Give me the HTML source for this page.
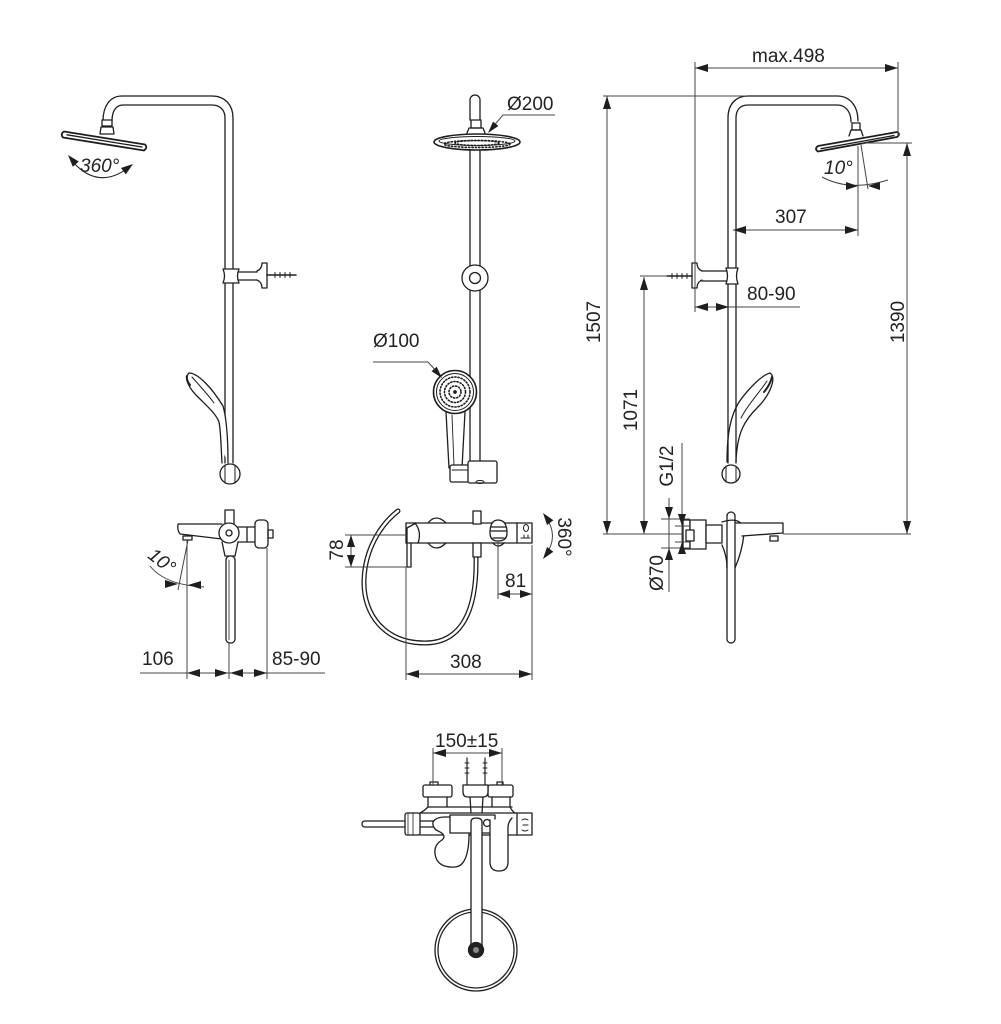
<!DOCTYPE html>
<html>
<head>
<meta charset="utf-8">
<style>
html,body{margin:0;padding:0;background:#fff;}
svg{display:block;}
text{font-family:"Liberation Sans",Arial,sans-serif;font-size:19px;fill:#222;}
</style>
</head>
<body>
<svg width="1001" height="1024" viewBox="0 0 1001 1024" xmlns="http://www.w3.org/2000/svg">
<g fill="none" stroke="#1e1e1e" stroke-width="1.3" stroke-linejoin="round" stroke-linecap="round">

<!-- ============ LEFT RISER ============ -->
<path d="M103,121 C103,106 110,96 122,96 H212 C225,96 233,105 233,118 V463"/>
<path d="M112,121 C112,111 116,105 123,105 H212 C220,105 225,110 225,118 V463"/>
<rect x="102" y="120" width="10" height="6" fill="#fff"/>
<path d="M100,134 L101,127 H113 L114,134 Z" fill="#fff"/>
<path d="M64,131.5 L145,144.5 Q148,147.5 144,150.5 L63,137.5 Q60,134 64,131.5 Z" fill="#fff" stroke-width="1.8"/>
<path d="M67,134.8 L142,147"/>
<!-- 360 arc -->
<path d="M73,162 Q98,190 128,168" stroke-width="1"/>
<!-- bracket -->
<path d="M223,269 Q226,276 223,283 H239 Q236,276 239,269 Z" fill="#fff"/>
<path d="M239,272 H257 M239,280 H257"/>
<path d="M257,271 Q262,269 262,263 H267 V288 H262 Q262,282 257,280"/>
<path d="M267,275 H296" stroke-width="1.6"/>
<path d="M275,272.5 V277.5 M280,272.5 V277.5 M285,272.5 V277.5 M290,272.5 V277.5" stroke-width="1"/>
<!-- hand shower leaf -->
<path d="M189,373 C198,373 212,388 223,406 C227,420 228,440 228,463" fill="#fff"/>
<path d="M189,373 C184,378 188,388 200,399 C208,407 216,414 219,422 C221,432 221,448 222,463"/>
<path d="M192,377 C198,384 206,392 214,403" stroke-width="1"/>
<path d="M187,376 Q186,380 190,385" stroke-width="2"/>
<circle cx="230" cy="474" r="10" fill="#fff"/>
<path d="M225,465 V483 M235,465 V483" stroke-width="1"/>

<!-- ============ CENTER RISER ============ -->
<path d="M470,120 V100 A5,5 0 0 1 480,100 V120"/>
<path d="M470,150 V462 M480,150 V462"/>
<rect x="471" y="120" width="10" height="8" fill="#fff"/>
<path d="M467,133 L469,128 H483 L485,133"/>
<ellipse cx="477" cy="142" rx="43" ry="8" fill="#fff" stroke-width="1.6"/>
<ellipse cx="477" cy="141" rx="38" ry="4.5" stroke-width="1"/>
<ellipse cx="477" cy="144" rx="33" ry="3.5" stroke-width="1.6" stroke-dasharray="1.2 2.2"/>
<ellipse cx="477" cy="143" rx="22" ry="2.5" stroke-width="1.6" stroke-dasharray="1.2 2.2"/>
<!-- slider -->
<circle cx="475" cy="278" r="13" fill="#fff"/>
<circle cx="475" cy="278" r="5.5" fill="#fff"/>
<!-- hand shower -->
<path d="M446,412 L449,468 H462 L465,412" fill="#fff"/>
<path d="M452,415 L454,466" stroke-width="0.9"/>
<circle cx="455" cy="392" r="21.5" fill="#fff" stroke-width="1.6"/>
<circle cx="455" cy="392" r="18.5" stroke-width="1"/>
<circle cx="455" cy="392" r="15" stroke-width="1.6" stroke-dasharray="1.2 2"/>
<circle cx="455" cy="392" r="10.5" stroke-width="1.6" stroke-dasharray="1.2 2"/>
<circle cx="455" cy="392" r="6" stroke-width="1.6" stroke-dasharray="1.2 2"/>
<circle cx="455" cy="392" r="1.2" fill="#222"/>
<!-- bottom bracket -->
<rect x="450" y="465" width="20" height="17" rx="2" fill="#fff"/>
<rect x="468" y="461" width="29" height="22" rx="2" fill="#fff"/>
<path d="M452,470 H468" stroke-width="1"/>
<ellipse cx="480" cy="482" rx="4" ry="1.5" stroke-width="1"/>

<!-- ============ RIGHT RISER ============ -->
<path d="M728,463 V118 C728,104 736,96 748,96 H837 C850,96 858,106 858,121"/>
<path d="M736,463 V118 C736,110 740,105 748,105 H837 C846,105 851,112 851,122"/>
<rect x="852" y="123" width="8" height="7" fill="#fff"/>
<path d="M849,136 L851,130 H861 L863,136"/>
<path d="M818,146 L897,132 Q901,134 897,137 L818,151.5 Q814,149 818,146 Z" fill="#fff" stroke-width="1.8"/>
<path d="M821,148.7 L894,135.5"/>
<!-- bracket -->
<path d="M738,268 Q735,276 738,284 H726 Q729,276 726,268 Z" fill="#fff"/>
<path d="M702,271 H726 M702,281 H726"/>
<path d="M702,271 Q697,269 697,263 H692 V288 H697 Q697,282 702,280"/>
<path d="M667,276 H692" stroke-width="1.6"/>
<path d="M672,273.5 V278.5 M677,273.5 V278.5 M682,273.5 V278.5 M687,273.5 V278.5" stroke-width="1"/>
<!-- hand shower leaf right -->
<path d="M770,373 C777,378 770,395 757,408 C745,420 737,432 736,462" fill="#fff"/>
<path d="M770,373 C762,375 749,388 739,402 C731,415 727,432 727,462"/>
<path d="M767,381 C760,392 748,404 741,418" stroke-width="1"/>
<path d="M772,377 Q770,385 764,392" stroke-width="2"/>
<circle cx="731" cy="474" r="9" fill="#fff"/>
<path d="M726,466 V482 M736,466 V482" stroke-width="1"/>
<!-- mixer side view right -->
<rect x="727" y="512" width="8" height="131" rx="4" fill="#fff"/>
<rect x="683" y="520" width="7" height="29" fill="#fff"/>
<rect x="690" y="520" width="16" height="29" fill="#fff"/>
<rect x="686" y="530" width="8" height="11" fill="#fff"/>
<rect x="706" y="525" width="16" height="18" fill="#fff"/>
<path d="M722,522 Q744,515 744,534 Q742,552 735,568 M722,545 Q727,556 727,568"/>
<path d="M735,523 H783 V533 L742,536" fill="#fff"/>
<rect x="770" y="536" width="8" height="5"/>

<!-- ============ LEFT MIXER (bottom-left) ============ -->
<path d="M222,524 H178 Q177,530 180,534 L222,539"/>
<rect x="183" y="536" width="9" height="4"/>
<rect x="225" y="510" width="9" height="14" fill="#fff"/>
<path d="M238,527 H255 M238,542 H255 M247,527 V542"/>
<rect x="255" y="520" width="13" height="28" rx="4" fill="#fff"/>
<rect x="268" y="530" width="5" height="8"/>
<path d="M222,542 L225,556 H235 L238,542"/>
<rect x="226" y="556" width="9" height="87" rx="4" fill="#fff"/>
<path d="M229,560 V640" stroke-width="0.8"/>
<circle cx="229" cy="533" r="10" fill="#fff"/>
<circle cx="229" cy="533" r="3"/>

<!-- ============ THERMOSTAT FRONT ============ -->
<path d="M476,558 C477,610 462,643 425,643 C385,643 363,615 364,580 C365,550 380,525 398,511" stroke-width="5"/>
<path d="M476,558 C477,610 462,643 425,643 C385,643 363,615 364,580 C365,550 380,525 398,511" stroke="#fff" stroke-width="2.4"/>
<path d="M428,523 Q436,513 446,523 M428,543 Q436,553 446,543"/>
<rect x="406" y="523" width="126" height="20" fill="#fff"/>
<path d="M407,528 L416,523 M407,528 V567 H411 V543"/>
<path d="M415,523 Q422,532 418,543"/>
<rect x="473" y="511" width="8" height="13" fill="#fff"/>
<rect x="473" y="543" width="8" height="14" fill="#fff"/>
<path d="M490,533 Q490,520 498,520 Q507,520 507,533 Q507,541 498,541 Q490,541 490,533 Z" fill="#fff"/>
<path d="M491,527 H506 M491,531 H506 M493,538 H504"/>
<path d="M493,543 Q498,549 504,543"/>
<path d="M517,523 V543"/>
<ellipse cx="526" cy="528" rx="2.5" ry="3.5" stroke-width="1"/>
<path d="M521,538 H530 M524,535 V538 M528,535 V538" stroke-width="1"/>

<!-- ============ BOTTOM VIEW ============ -->
<path d="M467,758 V787 M485,758 V787" stroke-width="1.2"/>
<path d="M465,763 H469 M465,768 H469 M465,773 H469 M483,763 H487 M483,768 H487 M483,773 H487" stroke-width="0.9"/>
<path d="M430,785 V782 H438 V785 M497,785 V782 H503 V785"/>
<rect x="423" y="785" width="29" height="12" rx="2" fill="#fff"/>
<rect x="488" y="785" width="25" height="12" rx="2" fill="#fff"/>
<path d="M463,785 H488 V792 Q488,797 483,797 H468 Q463,797 463,792 Z" fill="#fff"/>
<path d="M428,797 V807 Q424,811 420,813 M447,797 V807 M492,797 V807 M510,797 V807 Q512,811 515,813 M470,797 L471,813 M483,797 L482,813"/>
<path d="M420,813 H517 M428,807 H512"/>
<path d="M362,824 Q362,821 365,821 H452 M362,824 Q362,827 365,827 H452"/>
<rect x="405" y="813" width="15" height="22" rx="2" fill="#fff"/>
<path d="M408,813 V835 M413,813 V835" stroke-width="0.8"/>
<path d="M420,835 H517"/>
<path d="M433,822 Q436,817 445,817 H460 Q468,818 469,828 Q470,866 455,867 Q440,868 436,858 Q432,846 442,840 Q448,835 436,830 Q432,826 433,822 Z" fill="#fff"/>
<rect x="450" y="815" width="45" height="18" fill="#fff"/>
<circle cx="487" cy="823" r="3.5"/>
<path d="M490,820 V862 Q490,871 499,871 Q508,871 508,862 V828 Q508,822 512,818" fill="#fff"/>
<rect x="517" y="813" width="15" height="22" fill="#fff"/>
<path d="M522,820 Q525,818 528,820 M523,825 H528 M522,830 Q525,832 528,830" stroke-width="1"/>
<circle cx="476" cy="950" r="41" fill="#fff"/>
<circle cx="476" cy="950" r="38"/>
<path d="M471,950 V822 Q471,818 476,818 Q482,818 482,822 V950" fill="#fff"/>
<circle cx="476" cy="950" r="7.5" fill="#222"/>
<circle cx="476" cy="950" r="3" fill="#888" stroke="none"/>
</g>

<!-- ============ DIMENSION LINES ============ -->
<g fill="none" stroke="#444" stroke-width="1">
<!-- Ø200 / Ø100 leaders -->
<path d="M555,115 H503 L491,129"/>
<path d="M373,362 H428 L438,373"/>
<!-- max.498 -->
<path d="M695,68 H898 M695,62 V312 M898,62 V136"/>
<!-- 1507 -->
<path d="M607,96 V534 M603,96 H747"/>
<!-- 1390 -->
<path d="M907,143 V534 M862,143 H912"/>
<!-- 1071 -->
<path d="M644,277 V534 M640,276 H667"/>
<!-- baseline -->
<path d="M603,534 H683 M783,534 H911"/>
<!-- 307 -->
<path d="M733,230 H858 M858,146 V236"/>
<!-- 10 right -->
<path d="M858,146 V190 M861,145 L868,189"/>
<path d="M822,177 Q850,192 888,180"/>
<!-- 80-90 -->
<path d="M695,307 H800"/>
<!-- G1/2 -->
<path d="M682,443 V553 M675,526 H690 M675,542 H690"/>
<!-- Ø70 -->
<path d="M669,498 V592 M661,519 H690 M661,548 H690"/>
<!-- left 10 -->
<path d="M187,540 V679 M188,540 L178,590"/>
<path d="M150,566 Q165,585 204,587"/>
<!-- 106 / 85-90 -->
<path d="M140,673 H325 M229,643 V679 M267,548 V679"/>
<!-- 78 -->
<path d="M351,535 V567 M345,535 H407 M345,567 H407"/>
<!-- 360 center -->
<path d="M545,516 Q560,536 545,556"/>
<!-- 81 -->
<path d="M498,594 H532 M498,541 V599 M532,545 V680"/>
<!-- 308 -->
<path d="M406,674 H532 M406,567 V680"/>
<!-- 150 -->
<path d="M433,753 H502 M433,748 V786 M502,748 V786"/>
</g>

<!-- ============ ARROWHEADS ============ -->
<g fill="#1e1e1e" stroke="none">
<polygon points="488,133 498.4,126 493,121.6"/>
<polygon points="442,378 431.5,371.3 436.7,366.7"/>
<polygon points="68,155 78.8,161.5 72.8,166.7"/>
<polygon points="133,164 125.8,174.4 121,168"/>
<polygon points="695,68 708,64 708,72"/>
<polygon points="898,68 885,64 885,72"/>
<polygon points="607,96 603,109 611,109"/>
<polygon points="607,534 603,521 611,521"/>
<polygon points="907,143 903,156 911,156"/>
<polygon points="907,534 903,521 911,521"/>
<polygon points="644,277 640,290 648,290"/>
<polygon points="644,534 640,521 648,521"/>
<polygon points="733,230 746,226 746,234"/>
<polygon points="858,230 845,226 845,234"/>
<polygon points="858,186 846,182 846,190"/>
<polygon points="868,186 880,182 880,190"/>
<polygon points="695,307 708,303 708,311"/>
<polygon points="729,307 716,303 716,311"/>
<polygon points="682,526 678,514 686,514"/>
<polygon points="682,542 678,554 686,554"/>
<polygon points="669,519 665,507 673,507"/>
<polygon points="669,548 665,560 673,560"/>
<polygon points="178,584 165,580 165,588"/>
<polygon points="188,585 201,581 201,589"/>
<polygon points="187,673 200,669 200,677"/>
<polygon points="228,673 215,669 215,677"/>
<polygon points="230,673 243,669 243,677"/>
<polygon points="267,673 254,669 254,677"/>
<polygon points="351,535 347,547 355,547"/>
<polygon points="351,567 347,555 355,555"/>
<polygon points="543,513 553.4,520.2 547,525"/>
<polygon points="543,559 553.4,551.8 547,547"/>
<polygon points="498,594 510,590 510,598"/>
<polygon points="532,594 520,590 520,598"/>
<polygon points="406,674 419,670 419,678"/>
<polygon points="532,674 519,670 519,678"/>
<polygon points="433,753 446,749 446,757"/>
<polygon points="502,753 489,749 489,757"/>
</g>

<!-- ============ TEXT ============ -->
<text x="80" y="172" font-style="italic">360°</text>
<text x="507" y="110">Ø200</text>
<text x="373" y="347">Ø100</text>
<text x="752" y="62">max.498</text>
<text x="775" y="223">307</text>
<text x="747" y="300">80-90</text>
<text x="824" y="174" font-style="italic">10°</text>
<text transform="translate(600,322) rotate(-90)" text-anchor="middle">1507</text>
<text transform="translate(904,322) rotate(-90)" text-anchor="middle">1390</text>
<text transform="translate(637,410) rotate(-90)" text-anchor="middle">1071</text>
<text transform="translate(673,466) rotate(-90)" text-anchor="middle">G1/2</text>
<text transform="translate(663,573) rotate(-90)" text-anchor="middle">Ø70</text>
<text transform="translate(343,550) rotate(-90)" text-anchor="middle">78</text>
<text transform="translate(558,537) rotate(90)" text-anchor="middle">360°</text>
<text transform="translate(158,566) rotate(38)" text-anchor="middle" font-style="italic">10°</text>
<text x="142" y="665">106</text>
<text x="272" y="665">85-90</text>
<text x="505" y="587">81</text>
<text x="450" y="668">308</text>
<text x="435" y="747">150±15</text>
</svg>
</body>
</html>
